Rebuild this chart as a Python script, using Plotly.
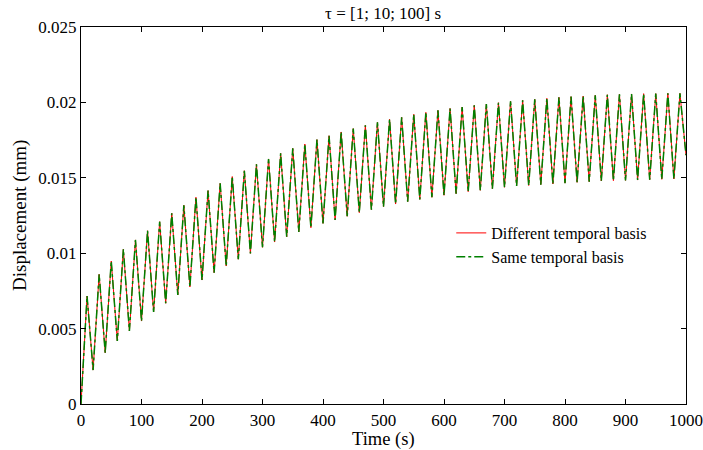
import plotly.graph_objects as go

# Peak values (t = 10, 30, ..., 990 s)
peak_times = list(range(10, 1000, 20))
peak_vals = [0.00716, 0.0086, 0.00948, 0.01026, 0.01088, 0.01149, 0.01209, 0.01265, 0.01318, 0.01371,
             0.01415, 0.01463, 0.01508, 0.01547, 0.0159, 0.01625, 0.01662, 0.01695, 0.01724, 0.01753,
             0.01779, 0.01804, 0.01826, 0.01848, 0.01868, 0.01888, 0.01901, 0.01921, 0.01934, 0.01947,
             0.0196, 0.01969, 0.0198, 0.01989, 0.01998, 0.02007, 0.02014, 0.0202, 0.02027, 0.02034,
             0.02038, 0.02042, 0.02047, 0.02051, 0.02054, 0.02056, 0.02058, 0.02058, 0.0206, 0.0206]
# Trough values (t = 20, 40, ..., 980 s)
trough_times = list(range(20, 1000, 20))
trough_vals = [0.00225, 0.0034, 0.00418, 0.00484, 0.0055, 0.0061, 0.00668, 0.00723, 0.00776, 0.00822,
               0.00871, 0.00915, 0.0096, 0.00999, 0.01039, 0.01074, 0.01109, 0.01141, 0.01169, 0.01198,
               0.0122, 0.01245, 0.01269, 0.01289, 0.01309, 0.01326, 0.01342, 0.01357, 0.01371, 0.01384,
               0.01395, 0.01408, 0.01417, 0.01428, 0.01437, 0.01446, 0.01449, 0.01455, 0.01459, 0.01465,
               0.0147, 0.01474, 0.01479, 0.01481, 0.01483, 0.01485, 0.01487, 0.0149, 0.01492]
start_point = (0, 0.0)
end_point = (1000, 0.0165)

x_ticks = [0, 100, 200, 300, 400, 500, 600, 700, 800, 900, 1000]
y_ticks = [0, 0.005, 0.01, 0.015, 0.02, 0.025]
y_ticktext = ["0", "0.005", "0.01", "0.015", "0.02", "0.025"]

pts = [start_point] + list(zip(peak_times, peak_vals)) + list(zip(trough_times, trough_vals)) + [end_point]
pts.sort(key=lambda p: p[0])
t = [p[0] for p in pts]
u = [p[1] for p in pts]

font = "Liberation Serif"
W, H = 703, 450
ml, mr, mt, mb = 81, 17, 27, 46
fig = go.Figure()
fig.add_trace(go.Scatter(x=t, y=u, mode="lines", name="Different temporal basis",
                         line=dict(color="rgb(255,0,0)", width=1)))
fig.add_trace(go.Scatter(x=t, y=u, mode="lines", name="Same temporal basis",
                         line=dict(color="rgb(0,128,0)", width=1.5, dash="dashdot")))

axis_common = dict(showgrid=False, zeroline=False, showline=True, linecolor="black", linewidth=1.2,
                   mirror="ticks", ticks="inside", ticklen=5, tickcolor="black", tickwidth=1,
                   automargin=False,
                   tickfont=dict(family=font, size=17, color="black"))
fig.update_xaxes(range=[0, 1000], tickvals=x_ticks, **axis_common)
fig.update_yaxes(range=[0, 0.025], tickvals=y_ticks, ticktext=y_ticktext, **axis_common)

pw, ph = W - ml - mr, H - mt - mb
fig.add_annotation(text="Time (s)", xref="paper", yref="paper",
                   x=(383 - ml) / pw, y=-(439 - (H - mb)) / ph, xanchor="center", yanchor="middle",
                   showarrow=False, font=dict(family=font, size=18.5, color="black"))
fig.add_annotation(text="Displacement (mm)", xref="paper", yref="paper", textangle=-90,
                   x=-(ml - 20) / pw, y=(H - mb - 216) / ph, xanchor="center", yanchor="middle",
                   showarrow=False, font=dict(family=font, size=19, color="black"))

fig.update_layout(
    width=W, height=H,
    margin=dict(l=ml, r=mr, t=mt, b=mb),
    paper_bgcolor="white", plot_bgcolor="white",
    title=dict(text="τ = [1; 10; 100] s", x=0.545, xanchor="center", y=1 - 13 / H, yanchor="middle",
               font=dict(family=font, size=17, color="black")),
    legend=dict(x=0.612, y=(H - mb - 245) / ph, xanchor="left", yanchor="middle", bgcolor="rgba(0,0,0,0)",
                font=dict(family=font, size=16, color="black"), tracegroupgap=0),
    showlegend=True,
)
fig.write_html("out.html")
